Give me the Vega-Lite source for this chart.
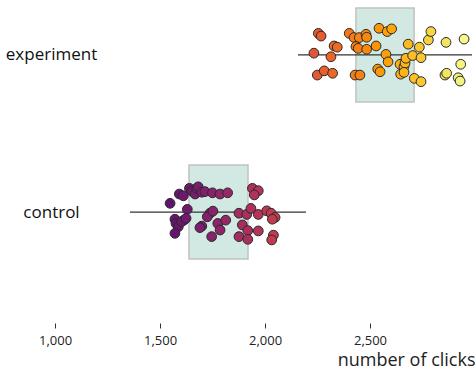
{
  "$schema": "https://vega.github.io/schema/vega-lite/v6.json",
  "width": 475,
  "height": 267,
  "padding": {"top": 0, "left": 0, "right": 0, "bottom": 104},
  "autosize": {"type": "none"},
  "background": "white",
  "config": {"view": {"stroke": null}, "font": "Open Sans"},
  "datasets": {
    "summary": [
      {"group": "experiment", "q1": 2433, "q3": 2710, "lo": 2157, "hi": 2986},
      {"group": "control", "q1": 1638, "q3": 1919, "lo": 1357, "hi": 2195}
    ],
    "points": [
      {"group": "experiment", "clicks": 2254, "jitter": -0.72},
      {"group": "experiment", "clicks": 2267, "jitter": -0.63},
      {"group": "experiment", "clicks": 2233, "jitter": -0.06},
      {"group": "experiment", "clicks": 2314, "jitter": 0.06},
      {"group": "experiment", "clicks": 2329, "jitter": -0.30},
      {"group": "experiment", "clicks": 2344, "jitter": -0.26},
      {"group": "experiment", "clicks": 2249, "jitter": 0.67},
      {"group": "experiment", "clicks": 2282, "jitter": 0.53},
      {"group": "experiment", "clicks": 2322, "jitter": 0.61},
      {"group": "experiment", "clicks": 2401, "jitter": -0.72},
      {"group": "experiment", "clicks": 2424, "jitter": -0.58},
      {"group": "experiment", "clicks": 2449, "jitter": -0.58},
      {"group": "experiment", "clicks": 2481, "jitter": -0.69},
      {"group": "experiment", "clicks": 2484, "jitter": -0.59},
      {"group": "experiment", "clicks": 2433, "jitter": -0.28},
      {"group": "experiment", "clicks": 2444, "jitter": -0.22},
      {"group": "experiment", "clicks": 2484, "jitter": -0.19},
      {"group": "experiment", "clicks": 2529, "jitter": -0.30},
      {"group": "experiment", "clicks": 2543, "jitter": -0.89},
      {"group": "experiment", "clicks": 2582, "jitter": -0.78},
      {"group": "experiment", "clicks": 2603, "jitter": -0.87},
      {"group": "experiment", "clicks": 2429, "jitter": 0.67},
      {"group": "experiment", "clicks": 2452, "jitter": 0.67},
      {"group": "experiment", "clicks": 2537, "jitter": 0.47},
      {"group": "experiment", "clicks": 2548, "jitter": 0.56},
      {"group": "experiment", "clicks": 2576, "jitter": -0.02},
      {"group": "experiment", "clicks": 2586, "jitter": 0.23},
      {"group": "experiment", "clicks": 2643, "jitter": 0.31},
      {"group": "experiment", "clicks": 2662, "jitter": 0.39},
      {"group": "experiment", "clicks": 2667, "jitter": 0.27},
      {"group": "experiment", "clicks": 2646, "jitter": 0.64},
      {"group": "experiment", "clicks": 2662, "jitter": 0.58},
      {"group": "experiment", "clicks": 2682, "jitter": -0.36},
      {"group": "experiment", "clicks": 2671, "jitter": 0.11},
      {"group": "experiment", "clicks": 2703, "jitter": 0.02},
      {"group": "experiment", "clicks": 2743, "jitter": 0.09},
      {"group": "experiment", "clicks": 2735, "jitter": -0.26},
      {"group": "experiment", "clicks": 2778, "jitter": -0.50},
      {"group": "experiment", "clicks": 2790, "jitter": -0.78},
      {"group": "experiment", "clicks": 2711, "jitter": 0.78},
      {"group": "experiment", "clicks": 2743, "jitter": 0.89},
      {"group": "experiment", "clicks": 2862, "jitter": -0.42},
      {"group": "experiment", "clicks": 2948, "jitter": -0.53},
      {"group": "experiment", "clicks": 2932, "jitter": 0.31},
      {"group": "experiment", "clicks": 2857, "jitter": 0.67},
      {"group": "experiment", "clicks": 2865, "jitter": 0.61},
      {"group": "experiment", "clicks": 2920, "jitter": 0.76},
      {"group": "experiment", "clicks": 2929, "jitter": 0.87},
      {"group": "control", "clicks": 1548, "jitter": -0.29},
      {"group": "control", "clicks": 1592, "jitter": -0.60},
      {"group": "control", "clicks": 1611, "jitter": -0.54},
      {"group": "control", "clicks": 1640, "jitter": -0.79},
      {"group": "control", "clicks": 1651, "jitter": -0.70},
      {"group": "control", "clicks": 1667, "jitter": -0.60},
      {"group": "control", "clicks": 1675, "jitter": -0.79},
      {"group": "control", "clicks": 1682, "jitter": -0.84},
      {"group": "control", "clicks": 1699, "jitter": -0.66},
      {"group": "control", "clicks": 1714, "jitter": -0.68},
      {"group": "control", "clicks": 1630, "jitter": -0.09},
      {"group": "control", "clicks": 1614, "jitter": 0.27},
      {"group": "control", "clicks": 1571, "jitter": 0.24},
      {"group": "control", "clicks": 1576, "jitter": 0.38},
      {"group": "control", "clicks": 1587, "jitter": 0.49},
      {"group": "control", "clicks": 1571, "jitter": 0.71},
      {"group": "control", "clicks": 1750, "jitter": -0.64},
      {"group": "control", "clicks": 1786, "jitter": -0.60},
      {"group": "control", "clicks": 1822, "jitter": -0.64},
      {"group": "control", "clicks": 1738, "jitter": 0.04},
      {"group": "control", "clicks": 1725, "jitter": 0.16},
      {"group": "control", "clicks": 1699, "jitter": 0.47},
      {"group": "control", "clicks": 1690, "jitter": 0.52},
      {"group": "control", "clicks": 1746, "jitter": 0.82},
      {"group": "control", "clicks": 1752, "jitter": -0.03},
      {"group": "control", "clicks": 1775, "jitter": 0.38},
      {"group": "control", "clicks": 1786, "jitter": 0.60},
      {"group": "control", "clicks": 1813, "jitter": 0.27},
      {"group": "control", "clicks": 1940, "jitter": -0.79},
      {"group": "control", "clicks": 1968, "jitter": -0.71},
      {"group": "control", "clicks": 1949, "jitter": -0.57},
      {"group": "control", "clicks": 1876, "jitter": 0.04},
      {"group": "control", "clicks": 1913, "jitter": 0.08},
      {"group": "control", "clicks": 1933, "jitter": -0.12},
      {"group": "control", "clicks": 1968, "jitter": 0.08},
      {"group": "control", "clicks": 2008, "jitter": -0.04},
      {"group": "control", "clicks": 2029, "jitter": 0.04},
      {"group": "control", "clicks": 2048, "jitter": 0.18},
      {"group": "control", "clicks": 2035, "jitter": 0.24},
      {"group": "control", "clicks": 1892, "jitter": 0.43},
      {"group": "control", "clicks": 1918, "jitter": 0.62},
      {"group": "control", "clicks": 1968, "jitter": 0.63},
      {"group": "control", "clicks": 1876, "jitter": 0.82},
      {"group": "control", "clicks": 1918, "jitter": 0.91},
      {"group": "control", "clicks": 2040, "jitter": 0.77},
      {"group": "control", "clicks": 2032, "jitter": 0.93},
      {"group": "control", "clicks": 1603, "jitter": 0.32},
      {"group": "control", "clicks": 1624, "jitter": 0.21}
    ]
  },
  "layer": [
    {
      "data": {"name": "summary"},
      "mark": {"type": "rect", "height": 94, "fill": "#d2e9e3", "stroke": "#c2c2c2", "strokeWidth": 1.5},
      "encoding": {
        "x": {
          "field": "q1", "type": "quantitative",
          "scale": {"domain": [738, 3000], "nice": false, "zero": false},
          "axis": {
            "values": [1000, 1500, 2000, 2500], "format": ",.0f", "domain": false, "grid": false,
            "offset": 56,
            "tickSize": 5, "tickColor": "#333", "labelFontSize": 13, "labelColor": "#222",
            "labelPadding": 6, "title": "number of clicks", "titleFontSize": 18,
            "titleFontWeight": "normal", "titleAnchor": "end", "titleColor": "#222", "titlePadding": 4
          }
        },
        "x2": {"field": "q3"},
        "y": {
          "field": "group", "type": "nominal",
          "scale": {"type": "point", "domain": ["experiment", "control"], "padding": 0.35},
          "axis": {
            "domain": false, "ticks": false, "tickSize": 0, "labelFontSize": 17, "labelColor": "#111",
            "labelAlign": "center", "labelPadding": -51, "title": null
          }
        }
      }
    },
    {
      "data": {"name": "summary"},
      "mark": {"type": "rule", "color": "#333", "strokeWidth": 1.3},
      "encoding": {
        "x": {"field": "lo", "type": "quantitative"},
        "x2": {"field": "hi"},
        "y": {"field": "group", "type": "nominal"}
      }
    },
    {
      "data": {"name": "points"},
      "mark": {"type": "circle", "size": 95, "stroke": "#2a2a2a", "strokeWidth": 1, "opacity": 1},
      "encoding": {
        "x": {"field": "clicks", "type": "quantitative"},
        "y": {"field": "group", "type": "nominal"},
        "yOffset": {"field": "jitter", "type": "quantitative", "scale": {"domain": [-1, 1], "range": [-30, 30]}},
        "color": {"field": "clicks", "type": "quantitative", "scale": {"scheme": "inferno", "domain": [1000, 3000]}, "legend": null}
      }
    }
  ]
}
